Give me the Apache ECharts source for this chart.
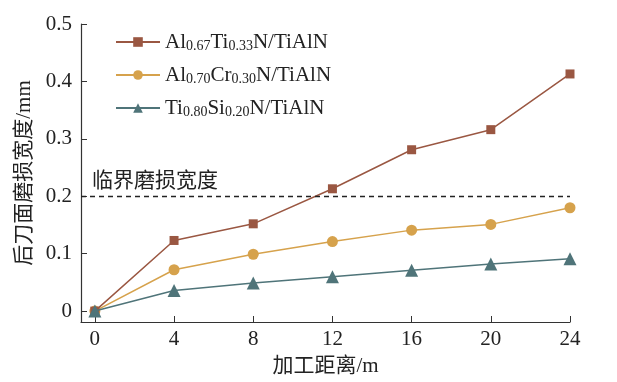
<!DOCTYPE html>
<html>
<head>
<meta charset="utf-8">
<script src="https://cdn.jsdelivr.net/npm/echarts@6/dist/echarts.min.js"></script>
<style>
  html, body { margin: 0; padding: 0; background: #fff; }
  #chart { width: 617px; height: 382px; }
</style>
</head>
<body>
<div id="chart"></div>
<script>
// Cutting distance (m)
const distances = [0, 4, 8, 12, 16, 20, 24];
// Flank wear width (mm) for each coating
const wearAlTiN = [0, 0.123, 0.152, 0.213, 0.281, 0.316, 0.413];
const wearAlCrN = [0, 0.072, 0.099, 0.121, 0.141, 0.151, 0.180];
const wearTiSiN = [0, 0.036, 0.049, 0.060, 0.071, 0.082, 0.091];
const criticalWear = 0.2;
const xTicks = [0, 4, 8, 12, 16, 20, 24];
const yTicks = [0, 0.1, 0.2, 0.3, 0.4, 0.5];

const FONT = '"Liberation Serif", "Noto Sans CJK SC", serif';
const pairs = arr => distances.map((d, i) => [d, arr[i]]);

const names = ['AlTiN', 'AlCrN', 'TiSiN'];
const legendRich = {
  '0': '{n|Al}{s|0.67}{n|Ti}{s|0.33}{n|N/TiAlN}',
  '1': '{n|Al}{s|0.70}{n|Cr}{s|0.30}{n|N/TiAlN}',
  '2': '{n|Ti}{s|0.80}{n|Si}{s|0.20}{n|N/TiAlN}'
};

const chart = echarts.init(document.getElementById('chart'));
chart.setOption({
  backgroundColor: '#fff',
  animation: false,
  grid: { left: 81, right: 47, top: 24, bottom: 57 },
  legend: {
    orient: 'vertical',
    left: 110,
    top: 25,
    itemWidth: 44,
    itemHeight: 12,
    itemGap: 10,
    data: names,
    formatter: n => legendRich[names.indexOf(n)],
    textStyle: {
      fontFamily: FONT,
      color: '#222',
      rich: {
        n: { fontSize: 21, lineHeight: 22, fontFamily: FONT, color: '#222' },
        s: { fontSize: 14, lineHeight: 22, fontFamily: FONT, color: '#222', verticalAlign: 'bottom', padding: [9, 0, 0, 0] }
      }
    }
  },
  xAxis: {
    type: 'value',
    min: -0.7,
    max: 24,
    name: '加工距离/m',
    nameLocation: 'middle',
    nameGap: 34,
    nameTextStyle: { fontFamily: FONT, fontSize: 21, color: '#222' },
    axisLine: { onZero: false, lineStyle: { color: '#333', width: 1.2 } },
    axisTick: { inside: true, length: 6, customValues: xTicks, lineStyle: { color: '#333' } },
    axisLabel: { customValues: xTicks, fontFamily: FONT, fontSize: 21, color: '#222', margin: 7 },
    splitLine: { show: false }
  },
  yAxis: {
    type: 'value',
    min: -0.019,
    max: 0.5,
    name: '后刀面磨损宽度/mm',
    nameLocation: 'middle',
    nameGap: 45,
    nameTextStyle: { fontFamily: FONT, fontSize: 21, color: '#222' },
    axisLine: { show: true, onZero: false, lineStyle: { color: '#333', width: 1.2 } },
    axisTick: { show: true, inside: true, length: 6, customValues: yTicks, lineStyle: { color: '#333' } },
    axisLabel: { customValues: yTicks, fontFamily: FONT, fontSize: 21, color: '#222', margin: 9 },
    splitLine: { show: false }
  },
  series: [
    {
      name: 'AlTiN', type: 'line', data: pairs(wearAlTiN),
      symbol: 'rect', symbolSize: 9,
      itemStyle: { color: '#9a5742' },
      lineStyle: { color: '#9a5742', width: 1.5 },
      z: 3,
      markLine: {
        silent: true,
        symbol: 'none',
        data: [{ yAxis: criticalWear }],
        lineStyle: { type: [5, 4], color: '#222', width: 1.3 },
        label: {
          formatter: '临界磨损宽度',
          position: 'insideStartTop',
          distance: [11, 4],
          fontFamily: FONT, fontSize: 21, color: '#222'
        }
      }
    },
    {
      name: 'AlCrN', type: 'line', data: pairs(wearAlCrN),
      symbol: 'circle', symbolSize: 11,
      itemStyle: { color: '#d6a24c' },
      lineStyle: { color: '#d6a24c', width: 1.5 },
      z: 2
    },
    {
      name: 'TiSiN', type: 'line', data: pairs(wearTiSiN),
      symbol: 'triangle', symbolSize: 13,
      itemStyle: { color: '#4f7479' },
      lineStyle: { color: '#4f7479', width: 1.5 },
      z: 4
    }
  ]
});
</script>
</body>
</html>
